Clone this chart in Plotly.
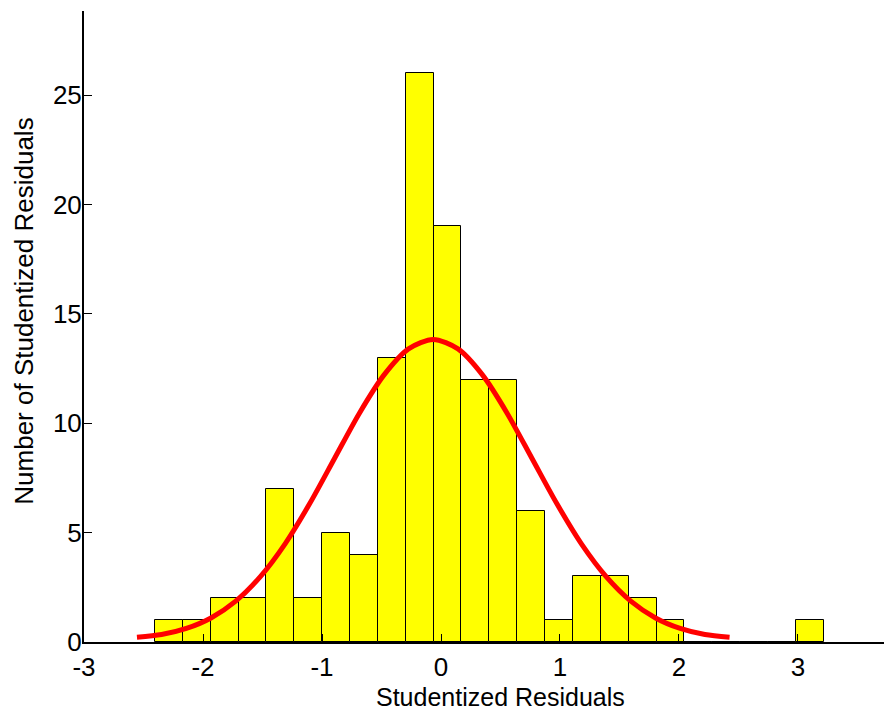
import plotly.graph_objects as go

# Histogram bins (centers) and counts
bin_centers = [-2.286, -2.052, -1.818, -1.584, -1.350, -1.115, -0.881, -0.647,
               -0.413, -0.179, 0.055, 0.289, 0.523, 0.757, 0.991, 1.226,
               1.460, 1.694, 1.928, 2.162, 2.396, 2.630, 2.864, 3.098]
counts = [1, 1, 2, 2, 7, 2, 5, 4, 13, 26, 19, 12, 12, 6, 1, 3, 3, 2, 1, 0, 0, 0, 0, 1]
bin_width = 0.2341

# Fitted normal curve
curve_x = [-2.555, -2.348, -2.140, -1.933, -1.725, -1.518, -1.310, -1.103, -0.895,
           -0.688, -0.480, -0.273, -0.065, 0.143, 0.350, 0.558, 0.765, 0.973,
           1.180, 1.388, 1.595, 1.803, 2.010, 2.218, 2.425]
curve_y = [0.22, 0.34, 0.62, 1.10, 1.87, 2.99, 4.49, 6.33, 8.39, 10.44, 12.20,
           13.40, 13.83, 13.40, 12.20, 10.44, 8.39, 6.33, 4.49, 2.99, 1.87,
           1.10, 0.62, 0.34, 0.22]

x_ticks = [-3, -2, -1, 0, 1, 2, 3]
y_ticks = [0, 5, 10, 15, 20, 25]

FONT = "Liberation Sans, Arial, sans-serif"

fig = go.Figure()
fig.add_trace(go.Bar(
    x=bin_centers, y=counts, width=bin_width,
    marker=dict(color="#FFFF00", line=dict(color="#000000", width=1)),
    showlegend=False, hoverinfo="x+y",
))
fig.add_trace(go.Scatter(
    x=curve_x, y=curve_y, mode="lines",
    line=dict(color="#FF0000", width=5, shape="spline", smoothing=0.8),
    showlegend=False,
))

fig.update_layout(
    width=884, height=705,
    margin=dict(l=76, r=0, t=3, b=71),
    paper_bgcolor="white", plot_bgcolor="white",
    bargap=0,
    font=dict(family=FONT, size=25, color="#000000"),
    xaxis=dict(
        range=[-3, 3.79], tickvals=x_ticks, ticktext=[str(v) for v in x_ticks],
        ticks="inside", ticklen=8, tickwidth=1, tickcolor="#000000",
        showline=True, linecolor="#000000", linewidth=2,
        showgrid=False, zeroline=False, mirror=False, automargin=False,
        ticklabelstandoff=1,
        tickfont=dict(family=FONT, size=26, color="#000000"),
    ),
    yaxis=dict(
        range=[0, 28.85], tickvals=y_ticks, ticktext=[str(v) for v in y_ticks],
        ticks="inside", ticklen=8, tickwidth=1, tickcolor="#000000",
        showline=True, linecolor="#000000", linewidth=2,
        showgrid=False, zeroline=False, mirror=False, automargin=False,
        ticklabelstandoff=-5,
        tickfont=dict(family=FONT, size=26, color="#000000"),
    ),
    annotations=[
        dict(text="Studentized Residuals", xref="x", yref="paper",
             x=0.5, y=-0.0876, xanchor="center", yanchor="middle",
             showarrow=False, font=dict(family=FONT, size=25, color="#000000")),
        dict(text="Number of Studentized Residuals", xref="paper", yref="paper",
             x=-0.0743, y=0.525, xanchor="center", yanchor="middle", textangle=-90,
             showarrow=False, font=dict(family=FONT, size=26, color="#000000")),
    ],
)

fig.write_html("out.html")
